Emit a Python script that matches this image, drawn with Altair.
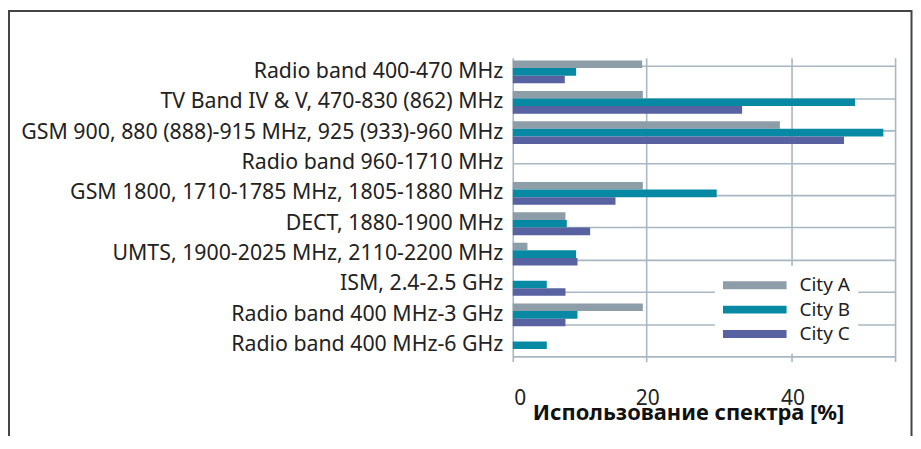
import altair as alt
import pandas as pd

# ---- data ----
bands = [
    "Radio band 400-470 MHz",
    "TV Band IV & V, 470-830 (862) MHz",
    "GSM 900, 880 (888)-915 MHz, 925 (933)-960 MHz",
    "Radio band 960-1710 MHz",
    "GSM 1800, 1710-1785 MHz, 1805-1880 MHz",
    "DECT, 1880-1900 MHz",
    "UMTS, 1900-2025 MHz, 2110-2200 MHz",
    "ISM, 2.4-2.5 GHz",
    "Radio band 400 MHz-3 GHz",
    "Radio band 400 MHz-6 GHz",
]
cities = ["City A", "City B", "City C"]
city_a = [19.4, 19.5, 38.4, 0, 19.5, 7.9, 2.2, 0, 19.5, 0]
city_b = [9.5, 49.2, 53.3, 0, 29.7, 8.1, 9.5, 5.1, 9.7, 5.1]
city_c = [7.8, 33.2, 47.6, 0, 15.4, 11.6, 9.7, 7.9, 7.9, 0]
colors = ["#8e9ea9", "#0789a3", "#5862a0"]

x_ticks = [0, 20, 40, 55]
row_lines = list(range(1, 11))

title_text = "вшая часть"
x_title = "Использование спектра [%]"

rows = []
for city, vals in zip(cities, [city_a, city_b, city_c]):
    for band, v in zip(bands, vals):
        rows.append({"band": band, "city": city, "value": v})
df = pd.DataFrame(rows)
grid_df = pd.DataFrame({"line": row_lines})
frame_df = pd.DataFrame({"f": [0]})

FONT = "Noto Sans"
GRID = "#a9b7c2"

# horizontal grid lines (independent quantitative scale, axis grid only)
grid_layer = alt.Chart(grid_df).mark_point(opacity=0).encode(
    y=alt.Y(
        "line:Q",
        scale=alt.Scale(domain=[0, 10.864], reverse=True, nice=False, zero=False),
        axis=alt.Axis(
            orient="right", values=row_lines, grid=True, labels=False, ticks=False,
            domain=False, title=None, gridColor=GRID, gridWidth=1.6,
        ),
    )
)

bars = alt.Chart(df).mark_bar().encode(
    x=alt.X(
        "value:Q",
        scale=alt.Scale(domain=x_ticks, range=[0, 134, 280, 384], nice=False, zero=False),
        axis=alt.Axis(
            values=x_ticks, grid=True, gridColor=GRID, gridWidth=1.6,
            ticks=False, domain=False,
            labelExpr="datum.value == 55 ? '' : datum.label",
            labelFont=FONT, labelFontSize=21, labelColor="#222", labelPadding=3,
            labelOffset=1,
            title=x_title, titleFont=FONT, titleFontSize=22, titleFontWeight="bold",
            titleColor="#111", titleX=176, titleY=35, titleAlign="center",
            titleBaseline="alphabetic",
        ),
    ),
    y=alt.Y(
        "band:N", sort=bands,
        scale=alt.Scale(range=[23, 328], paddingInner=0.25, paddingOuter=0.125),
        axis=alt.Axis(
            orient="left", title=None, grid=False, ticks=False, tickSize=0,
            domain=False, labelFont=FONT, labelFontSize=21.4, labelColor="#222",
            labelPadding=10, labelLimit=700,
        ),
    ),
    yOffset=alt.YOffset("city:N", sort=cities,
                        scale=alt.Scale(paddingInner=0, paddingOuter=0)),
    color=alt.Color(
        "city:N", sort=cities,
        scale=alt.Scale(domain=cities, range=colors),
        legend=alt.Legend(
            title=None, orient="none", legendX=203, legendY=233,
            symbolType="M-1,-0.125H1V0.125H-1Z", symbolSize=4096,
            symbolStrokeWidth=0, symbolOpacity=1, clipHeight=23,
            labelOffset=13, labelFont=FONT, labelFontSize=19, labelColor="#222",
            fillColor="white", padding=8, rowPadding=1.5,
        ),
    ),
)

frame = alt.Chart(frame_df).mark_rect(
    fillOpacity=0, stroke="#444444", strokeWidth=2
).encode(
    x=alt.value(-506), x2=alt.value(400.5),
    y=alt.value(-23), y2=alt.value(470),
)

chart = alt.layer(grid_layer, bars, frame).resolve_scale(
    y="independent"
).properties(
    width=384, height=352,
    autosize=alt.AutoSizeParams(type="none"),
    padding={"left": 507, "top": 25, "right": 18, "bottom": 51},
    title=alt.Title(
        title_text, anchor="start", frame="group", dx=-515, offset=27,
        baseline="alphabetic", font=FONT, fontSize=25, fontWeight="normal",
        color="#222",
    ),
).configure_view(stroke=None)

chart.save("out.html", embed_options={"renderer": "svg", "actions": False})
